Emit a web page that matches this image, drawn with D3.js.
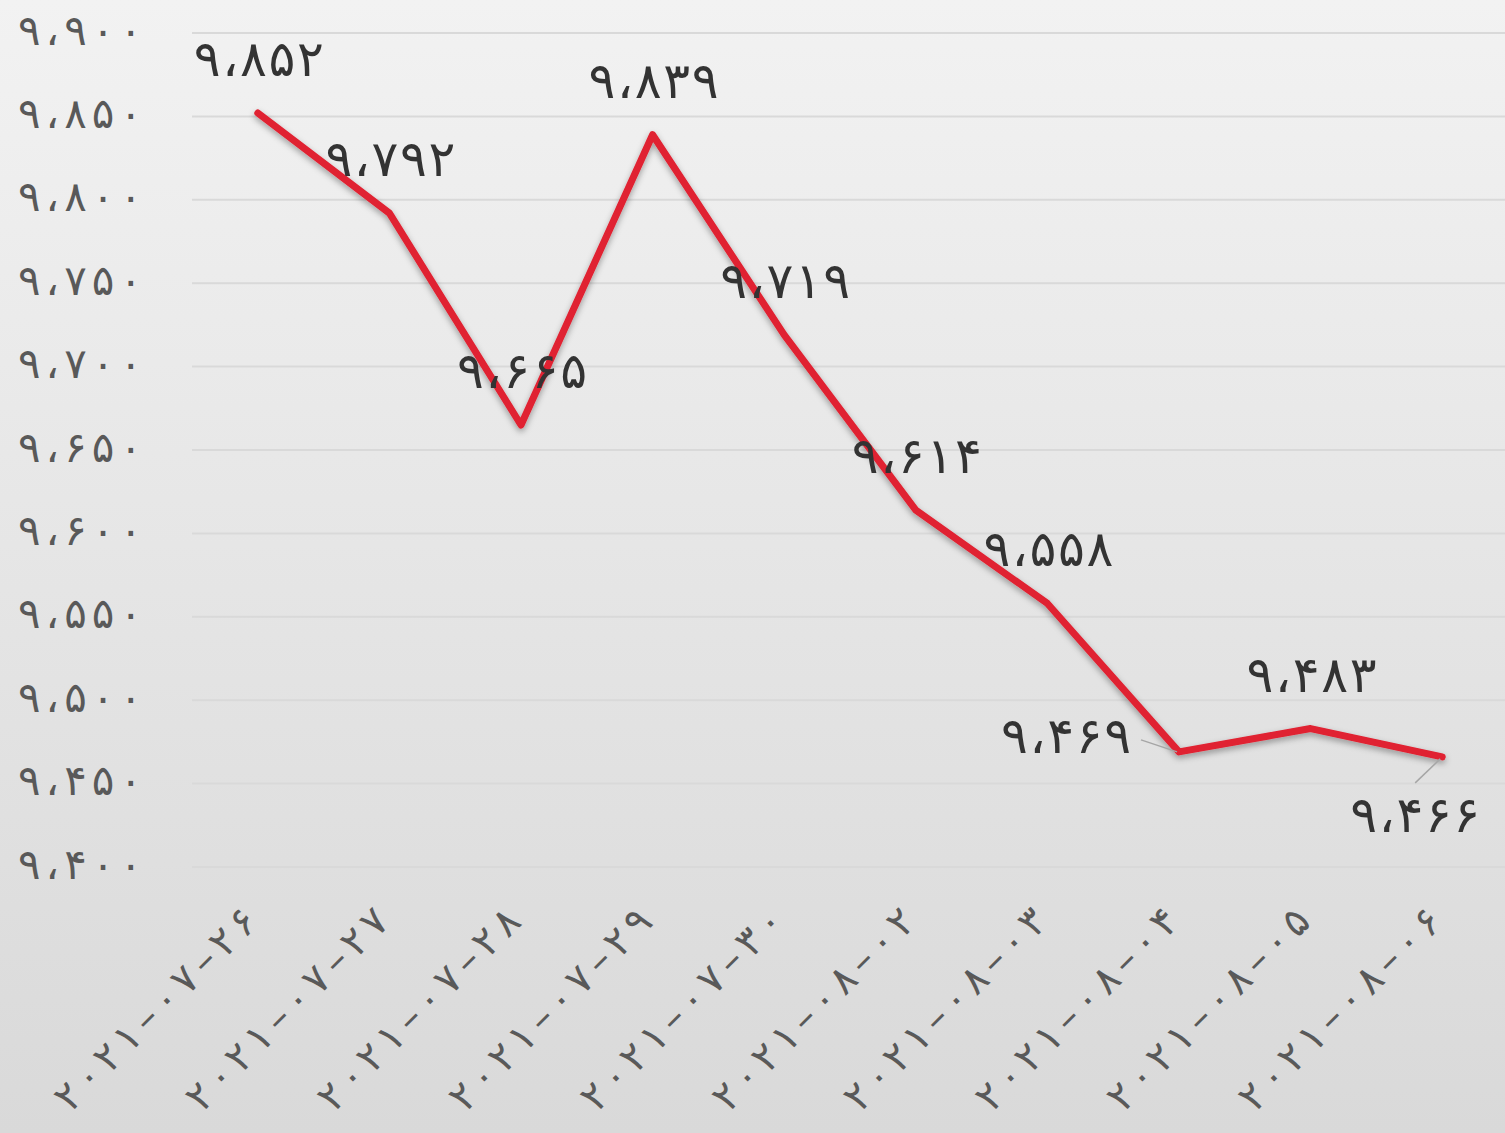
<!DOCTYPE html>
<html>
<head>
<meta charset="utf-8">
<style>
  body { margin: 0; background: #fff; }
  svg text { font-family: "DejaVu Sans", sans-serif; }
</style>
<script src="https://cdn.jsdelivr.net/npm/d3@7"></script>
</head>
<body>
<svg id="chart"></svg>
<script>
// dates and closing values
const dates = ["2021-07-26", "2021-07-27", "2021-07-28", "2021-07-29", "2021-07-30",
               "2021-08-02", "2021-08-03", "2021-08-04", "2021-08-05", "2021-08-06"];
const values = [9852, 9792, 9665, 9839, 9719, 9614, 9558, 9469, 9483, 9466];
const yTicks = [9400, 9450, 9500, 9550, 9600, 9650, 9700, 9750, 9800, 9850, 9900];

const width = 1505, height = 1133;
const margin = {left: 192, right: -3, top: 33, bottom: 266};

const fa = "۰۱۲۳۴۵۶۷۸۹";
function toFa(s) {
  return String(s).replace(/[0-9]/g, d => fa[+d]).replace(/,/g, "،").replace(/-/g, "–");
}
const fmt = d3.format(",");

const svg = d3.select("#chart").attr("width", width).attr("height", height);

const defs = svg.append("defs");
const grad = defs.append("linearGradient").attr("id", "bg")
  .attr("x1", 0).attr("y1", 0).attr("x2", 0).attr("y2", 1);
grad.append("stop").attr("offset", "0%").attr("stop-color", "#f2f2f2");
grad.append("stop").attr("offset", "100%").attr("stop-color", "#d9d9d9");

const shadow = defs.append("filter").attr("id", "shadow")
  .attr("x", "-10%").attr("y", "-10%").attr("width", "120%").attr("height", "130%");
shadow.append("feDropShadow").attr("dx", 0).attr("dy", 3).attr("stdDeviation", 3)
  .attr("flood-color", "#000").attr("flood-opacity", 0.35);

svg.append("rect").attr("width", width).attr("height", height).attr("fill", "url(#bg)");

const x = d3.scaleBand().domain(dates).range([margin.left, width - margin.right]);
const y = d3.scaleLinear().domain([9400, 9900]).range([height - margin.bottom, margin.top]);
const cx = d => x(d) + x.bandwidth() / 2;

// gridlines
svg.append("g").selectAll("line").data(yTicks).join("line")
  .attr("x1", margin.left).attr("x2", width)
  .attr("y1", d => y(d)).attr("y2", d => y(d))
  .attr("stroke", "#d9d9d9").attr("stroke-width", 2);

// y axis labels (letter-spacing is ignored for arabic-script runs, so stretch with textLength)
svg.append("g").selectAll("text").data(yTicks).join("text")
  .attr("x", 142).attr("y", d => y(d) - 3)
  .attr("text-anchor", "end").attr("dominant-baseline", "central")
  .attr("font-size", 42).attr("fill", "#595959")
  .attr("textLength", 124).attr("lengthAdjust", "spacing")
  .text(d => toFa(fmt(d)));

// x axis labels
svg.append("g").selectAll("text").data(dates).join("text")
  .attr("transform", d => `translate(${cx(d) - 8},${914}) rotate(-45)`)
  .attr("text-anchor", "end").attr("dominant-baseline", "central")
  .attr("font-size", 40).attr("fill", "#595959")
  .attr("textLength", 268).attr("lengthAdjust", "spacing")
  .text(d => toFa(d));

// line
const pts = dates.map((d, i) => ({d, v: values[i]}));
svg.append("path").datum(pts)
  .attr("d", d3.line().x(p => cx(p.d)).y(p => y(p.v)))
  .attr("fill", "none").attr("stroke", "#e02030").attr("stroke-width", 7)
  .attr("stroke-linejoin", "round").attr("stroke-linecap", "round")
  .attr("filter", "url(#shadow)");

// data labels: most sit above the point, two are pushed aside with leader lines
const place = {"2021-08-04": "left", "2021-08-06": "below"};
const lab = svg.append("g");
pts.forEach(p => {
  const px = cx(p.d), py = y(p.v);
  const where = place[p.d] || "above";
  let tx = px + 1, ty = py - 54, anchor = "middle";
  if (where === "left") {
    tx = px - 48; ty = py - 16; anchor = "end";
    lab.append("line").attr("x1", px - 38).attr("y1", py - 12).attr("x2", px - 2).attr("y2", py)
      .attr("stroke", "#a6a6a6").attr("stroke-width", 1.5);
  } else if (where === "below") {
    tx = px - 27; ty = py + 58;
    lab.append("line").attr("x1", px - 27).attr("y1", py + 26).attr("x2", px - 2).attr("y2", py + 2)
      .attr("stroke", "#a6a6a6").attr("stroke-width", 1.5);
  }
  lab.append("text")
    .attr("x", tx).attr("y", ty)
    .attr("text-anchor", anchor).attr("dominant-baseline", "central")
    .attr("font-size", 50).attr("fill", "#333")
    .attr("textLength", 130).attr("lengthAdjust", "spacing")
    .text(toFa(fmt(p.v)));
});
</script>
</body>
</html>
